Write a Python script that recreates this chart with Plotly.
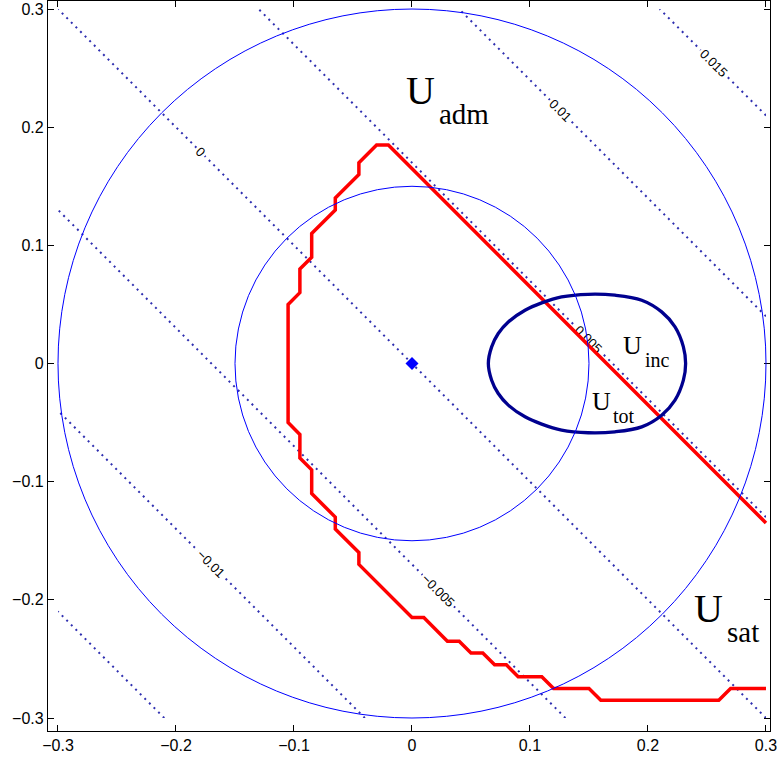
import plotly.graph_objects as go

# ---------------- data ----------------
# linear field sampled at the corners of the square domain
field_x = [-0.3, 0.3]
field_y = [-0.3, 0.3]
field_z = [[-0.01765, 0.0],
           [0.0, 0.01765]]
contour_start, contour_end, contour_step = -0.015, 0.015, 0.005

circle_radii = [0.15, 0.3]

# red boundary (U_sat / U_adm limit)
red_x = [0.30, -0.02, -0.03, -0.045, -0.045, -0.065, -0.065, -0.085, -0.085,
         -0.095, -0.095, -0.105, -0.105, -0.095, -0.095, -0.085, -0.085,
         -0.065, -0.065, -0.045, -0.045, 0.0, 0.01, 0.03, 0.04, 0.05, 0.06,
         0.07, 0.08, 0.09, 0.11, 0.12, 0.15, 0.16, 0.26, 0.27, 0.30]
red_y = [-0.135, 0.185, 0.185, 0.17, 0.16, 0.14, 0.13, 0.11, 0.09,
         0.08, 0.06, 0.05, -0.05, -0.06, -0.08, -0.09, -0.11,
         -0.13, -0.14, -0.16, -0.17, -0.215, -0.215, -0.235, -0.235, -0.245, -0.245,
         -0.255, -0.255, -0.265, -0.265, -0.275, -0.275, -0.285, -0.285, -0.275, -0.275]

# U_inc closed curve
inc_x = [0.0647, 0.0675, 0.0731, 0.0816, 0.0958, 0.1099, 0.1268, 0.1494, 0.172,
         0.1947, 0.2116, 0.2229, 0.2300, 0.2319,
         0.2300, 0.2229, 0.2116, 0.1947, 0.172, 0.1494, 0.1268, 0.1099, 0.0958,
         0.0816, 0.0731, 0.0675, 0.0647]
inc_y = [0.0, 0.0141, 0.0254, 0.0352, 0.0451, 0.0513, 0.0564, 0.0586, 0.0578,
         0.0536, 0.0437, 0.031, 0.0141, 0.0,
         -0.0141, -0.031, -0.0437, -0.0536, -0.0578, -0.0586, -0.0564, -0.0513, -0.0451,
         -0.0352, -0.0254, -0.0141, 0.0]

origin_x = [0.0]
origin_y = [0.0]

tick_vals = [-0.3, -0.2, -0.1, 0.0, 0.1, 0.2, 0.3]
tick_text = ["\u22120.3", "\u22120.2", "\u22120.1", "0", "0.1", "0.2", "0.3"]

# region labels: (main, sub, x_main, y_main, x_sub, y_sub, main size, sub size)
region_labels = [
    ("U", "adm", 0.0076, 0.231, 0.0212, 0.211, 40, 29),
    ("U", "sat", 0.2517, -0.2074, 0.2653, -0.2273, 40, 29),
    ("U", "inc", 0.1869, 0.0151, 0.1958, 0.0028, 26, 20),
    ("U", "tot", 0.1602, -0.0319, 0.1686, -0.0446, 26, 20),
]

# ---------------- figure ----------------
fig = go.Figure()

fig.add_trace(go.Contour(
    x=field_x, y=field_y, z=field_z,
    autocontour=False,
    contours=dict(start=contour_start, end=contour_end, size=contour_step,
                  coloring="none", showlabels=True,
                  labelfont=dict(family="Liberation Sans, Arial", size=13, color="black")),
    line=dict(color="#2f2fb0", width=2, dash="2px,4.5px"),
    showscale=False, hoverinfo="skip",
))

for r in circle_radii:
    fig.add_shape(type="circle", xref="x", yref="y",
                  x0=-r, y0=-r, x1=r, y1=r,
                  line=dict(color="#0000ff", width=1))

fig.add_trace(go.Scatter(x=red_x, y=red_y, mode="lines",
                         line=dict(color="#ff0000", width=3.5), showlegend=False))

fig.add_trace(go.Scatter(x=inc_x, y=inc_y, mode="lines",
                         line=dict(color="#00008f", width=3.3, shape="spline", smoothing=1.0),
                         showlegend=False))

fig.add_trace(go.Scatter(x=origin_x, y=origin_y, mode="markers",
                         marker=dict(symbol="diamond", size=10, color="#0000ff"),
                         showlegend=False))

serif = "Liberation Serif, Times New Roman, serif"
for main, sub, xm, ym, xs, ys, sm, ss in region_labels:
    fig.add_annotation(x=xm, y=ym, text=main, showarrow=False,
                       xanchor="center", yanchor="middle",
                       font=dict(family=serif, size=sm, color="black"))
    fig.add_annotation(x=xs, y=ys, text=sub, showarrow=False,
                       xanchor="left", yanchor="middle",
                       font=dict(family=serif, size=ss, color="black"))

axis_common = dict(
    tickvals=tick_vals, ticktext=tick_text,
    ticks="inside", ticklen=6, tickwidth=1, tickcolor="black",
    showline=True, linecolor="black", linewidth=1.3, mirror="ticks",
    showgrid=False, zeroline=False, automargin=False,
    ticklabeloverflow="allow",
    tickfont=dict(family="Liberation Sans, Arial", size=16, color="black"),
)

fig.update_layout(
    width=777, height=761,
    margin=dict(l=48, r=7, t=1, b=30),
    paper_bgcolor="white", plot_bgcolor="white",
    showlegend=False,
    xaxis=dict(range=[-0.30847, 0.3034], **axis_common),
    yaxis=dict(range=[-0.311, 0.3068], **axis_common),
)

fig.write_html("out.html",
               config={"displayModeBar": False},
               post_script="document.body.style.margin='0';document.body.style.overflow='hidden';")
